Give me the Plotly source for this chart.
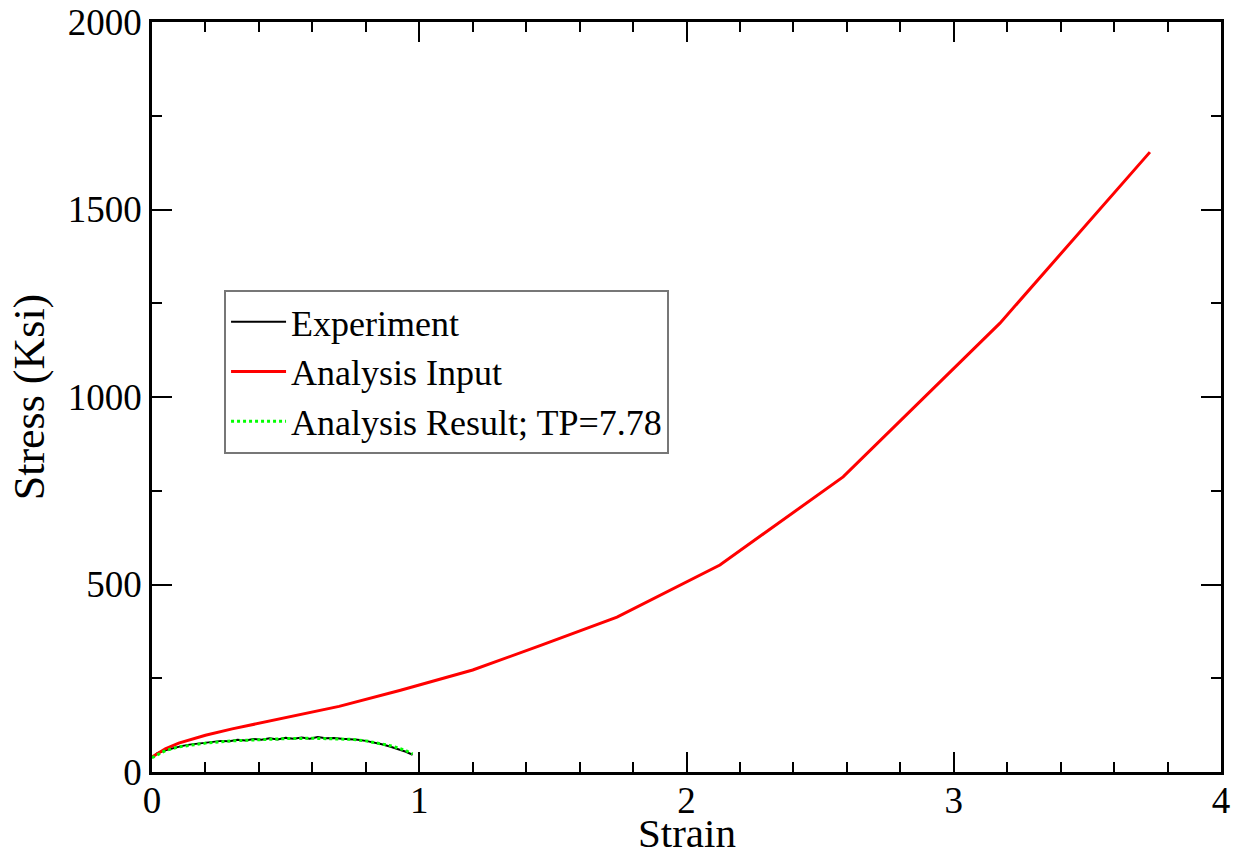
import plotly.graph_objects as go

# Experiment (noisy measured curve)
exp_strain = [0.0, 0.02, 0.05, 0.08, 0.11, 0.14, 0.17, 0.20, 0.23, 0.26, 0.29, 0.32,
              0.35, 0.38, 0.41, 0.44, 0.47, 0.50, 0.53, 0.56, 0.59, 0.62, 0.65, 0.68,
              0.71, 0.74, 0.77, 0.80, 0.83, 0.86, 0.89, 0.92, 0.95, 0.975]
exp_stress = [38, 50, 58, 64, 69, 73, 75, 79, 80, 83, 82, 86,
              84, 88, 86, 90, 87, 91, 89, 92, 89, 93, 90, 91,
              89, 88, 86, 83, 79, 74, 68, 61, 54, 46]

# Analysis input (red)
inp_strain = [0.0, 0.05, 0.1, 0.2, 0.3, 0.5, 0.7, 0.93, 1.2, 1.452, 1.74, 2.125, 2.586, 3.173, 3.734]
inp_stress = [40, 62, 77, 98, 115, 145, 175, 218, 272, 337, 413, 552, 787, 1197, 1653]

# Analysis result (green dotted)
res_strain = [0.0, 0.05, 0.1, 0.15, 0.2, 0.3, 0.4, 0.5, 0.6, 0.7, 0.75, 0.8, 0.85, 0.9, 0.95, 0.975]
res_stress = [38, 57, 67, 73, 77, 83, 87, 89, 90, 89, 87, 83, 77, 69, 57, 48]

x_title = "Strain"
y_title = "Stress (Ksi)"

font_family = "Liberation Serif, Times New Roman, serif"

fig = go.Figure()
fig.add_trace(go.Scatter(x=exp_strain, y=exp_stress, mode="lines", name="Experiment",
                         line=dict(color="black", width=2)))
fig.add_trace(go.Scatter(x=inp_strain, y=inp_stress, mode="lines", name="Analysis Input",
                         line=dict(color="#ff0000", width=3)))
fig.add_trace(go.Scatter(x=res_strain, y=res_stress, mode="lines", name="Analysis Result; TP=7.78",
                         line=dict(color="#00ff00", width=3, dash="dot")))

axis_common = dict(
    showgrid=False, zeroline=False, showline=True, linecolor="black", linewidth=2.5,
    mirror="ticks", ticks="inside", ticklen=20, tickwidth=2, tickcolor="black",
    tickfont=dict(family=font_family, size=37, color="black"), automargin=False,
)

fig.update_xaxes(range=[0, 4], dtick=1, tick0=0, ticklabelstandoff=-6,
                 minor=dict(dtick=0.2, ticks="inside", ticklen=10, tickwidth=2, tickcolor="black"),
                 **axis_common)
fig.update_yaxes(range=[0, 2000], dtick=500, tick0=0,
                 minor=dict(dtick=250, ticks="inside", ticklen=10, tickwidth=2, tickcolor="black"),
                 title=dict(text=y_title, font=dict(family=font_family, size=44, color="black"), standoff=10),
                 **axis_common)

fig.add_annotation(text=x_title, xref="paper", yref="paper", x=0.5, y=-0.081,
                   xanchor="center", yanchor="middle", showarrow=False,
                   font=dict(family=font_family, size=41, color="black"))

fig.update_layout(
    width=1235, height=857,
    margin=dict(l=152, r=14, t=22, b=85),
    paper_bgcolor="white", plot_bgcolor="white",
    font=dict(family=font_family, color="black"),
    legend=dict(x=0.0674, y=0.643, xanchor="left", yanchor="top",
                bordercolor="#777777", borderwidth=2, bgcolor="white",
                font=dict(family=font_family, size=36, color="black"),
                itemwidth=55, tracegroupgap=0),
)

fig.write_html("out.html")
